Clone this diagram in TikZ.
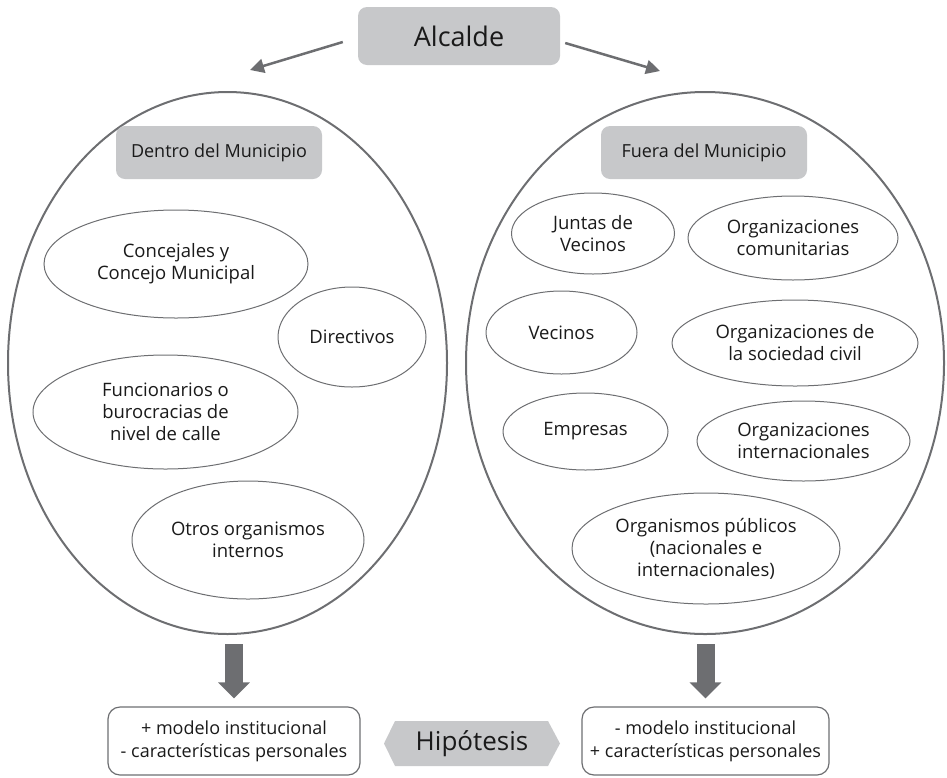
\documentclass[tikz,border=0pt]{standalone}
\usepackage{fontspec}
\setmainfont{Open Sans}
\usetikzlibrary{shapes.geometric,arrows.meta,calc}
\definecolor{gfill}{HTML}{C7C8CA}
\definecolor{gline}{HTML}{6D6E71}
\definecolor{tcol}{HTML}{1A1A1A}
\tikzset{
  bigell/.style={ellipse, draw=gline, line width=2pt, inner sep=0pt},
  smell/.style={ellipse, draw=gline, line width=1pt, inner sep=0pt, align=center, text=tcol, font=\fontsize{18.5}{22}\selectfont},
  graybox/.style={rectangle, rounded corners=9pt, fill=gfill, inner sep=0pt, text=tcol},
  resbox/.style={rectangle, rounded corners=12pt, draw=gline, line width=1.2pt, inner sep=0pt, align=center, text=tcol, font=\fontsize{18}{23}\selectfont, minimum width=252pt, minimum height=68pt},
  thinarr/.style={draw=gline, line width=2.5pt, -{Triangle[length=14pt,width=14pt]}},
  thickarr/.style={draw=gline, line width=18pt, -{Triangle[length=16pt,width=31pt]}}
}
\begin{document}
\begin{tikzpicture}[x=1pt,y=-1pt]
\useasboundingbox (0,0) rectangle (947,777);
% top
\node[graybox, minimum width=202pt, minimum height=58pt, font=\fontsize{27}{30}\selectfont] (alc) at (459,36) {Alcalde};
% big ellipses
\node[bigell, minimum width=439pt, minimum height=542pt] (L) at (227.5,363) {};
\node[bigell, minimum width=478pt, minimum height=542pt] (R) at (705,363) {};
\coordinate (la) at (250,70);
\coordinate (ra) at (660,71);
\draw[thinarr] ($(alc.west)+(-15,6)$) -- (la);
\draw[thinarr] ($(alc.east)+(5,7)$) -- (ra);
% headers
\node[graybox, minimum width=206pt, minimum height=53pt, font=\fontsize{18}{22}\selectfont] (din) at (219,152.5) {Dentro del Municipio};
\node[graybox, minimum width=206pt, minimum height=53pt, font=\fontsize{18}{22}\selectfont] (fue) at (704,152.5) {Fuera del Municipio};
% left inner
\node[smell, minimum width=264pt, minimum height=108pt] (conc) at (176,264) {Concejales y\\Concejo Municipal};
\node[smell, minimum width=148pt, minimum height=100pt] (dir) at (352,337) {Directivos};
\node[smell, minimum width=265pt, minimum height=114pt] (fun) at (165.5,412) {Funcionarios o\\burocracias de\\nivel de calle};
\node[smell, minimum width=232pt, minimum height=118pt] (otr) at (248,540) {Otros organismos\\internos};
% right inner
\node[smell, minimum width=163pt, minimum height=81pt] (jun) at (593,233.5) {Juntas de\\Vecinos};
\node[smell, minimum width=210pt, minimum height=84pt] (oco) at (793,238) {Organizaciones\\comunitarias};
\node[smell, minimum width=151pt, minimum height=83pt] (vec) at (561.5,332.5) {Vecinos};
\node[smell, minimum width=246pt, minimum height=86pt] (osc) at (795,343) {Organizaciones de\\la sociedad civil};
\node[smell, minimum width=165pt, minimum height=77pt] (emp) at (585.5,431.5) {Empresas};
\node[smell, minimum width=213pt, minimum height=80pt] (oin) at (803.5,441) {Organizaciones\\internacionales};
\node[smell, minimum width=268pt, minimum height=111pt] (opu) at (706,548.5) {Organismos públicos\\(nacionales e\\internacionales)};
% result boxes
\node[resbox] (lbox) at (234,741) {+ modelo institucional\\- características personales};
\node[resbox, minimum width=247pt] (rbox) at (705.5,741) {- modelo institucional\\+ características personales};
\draw[thickarr] ($(lbox.north |- L.south)+(0,9)$) -- ($(lbox.north)+(0,-8)$);
\draw[thickarr] ($(rbox.north |- R.south)+(0,9)$) -- ($(rbox.north)+(0,-8)$);
% hypothesis
\fill[gfill] (384,743.5) -- (395,721) -- (548,721) -- (560,743.5) -- (548,766) -- (395,766) -- cycle;
\node[text=tcol, font=\fontsize{26}{30}\selectfont, inner sep=0pt] (hip) at (472,743.5) {Hipótesis};
\end{tikzpicture}
\end{document}
